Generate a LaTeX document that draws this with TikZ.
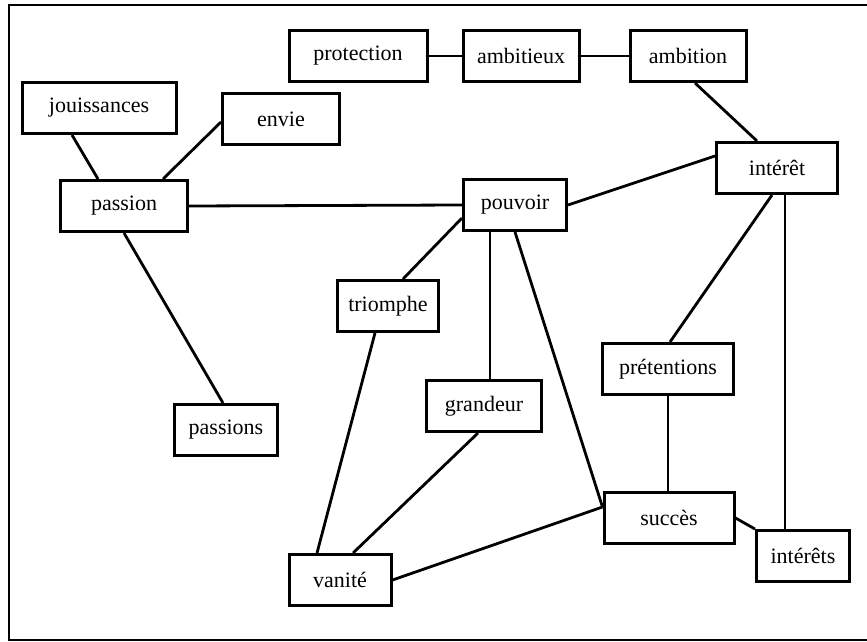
\documentclass[tikz,border=0pt]{standalone}
\usepackage{fontspec}
\setmainfont{Liberation Serif}
\usetikzlibrary{positioning}

\begin{document}
\begin{tikzpicture}[
    x=0.5pt, y=-0.5pt,
    every node/.style={draw, rectangle, line width=1.5pt, inner sep=0pt, minimum height=25.5pt, font=\fontsize{11}{13}\selectfont},
    link/.style={line width=1.4pt}
]
\useasboundingbox (0,0) rectangle (867,642);

% Frame
\draw[line width=1.2pt] (890,5) -- (9,5) -- (9,640) -- (890,640);

% Nodes (top row)
\node[minimum width=69pt] (protection) at (358,56) {protection};
\node[minimum width=58pt] (ambitieux) at (521,56) {ambitieux};
\node[minimum width=58pt] (ambition) at (688,56) {ambition};

% Nodes (left)
\node[minimum width=77pt] (jouissances) at (99,108) {jouissances};
\node[minimum width=58.5pt] (envie) at (281,119) {envie};
\node[minimum width=63.5pt] (passion) at (124,206) {passion};
\node[minimum width=51.5pt] (passions) at (226,430) {passions};

% Nodes (middle)
\node[minimum width=51.5pt] (pouvoir) at (515,205) {pouvoir};
\node[minimum width=50.5pt] (triomphe) at (388,306) {triomphe};
\node[minimum width=57.5pt] (grandeur) at (484,406) {grandeur};
\node[minimum width=51pt] (vanite) at (340,580) {vanité};

% Nodes (right)
\node[minimum width=60.5pt] (interet) at (777,168) {intérêt};
\node[minimum width=65.5pt] (pretentions) at (668,369) {prétentions};
\node[minimum width=65pt] (succes) at (669,518) {succès};
\node[minimum width=46.5pt] (interets) at (803,556) {intérêts};

% Helper points for the vertical links
\coordinate (gtop) at ([xshift=-12.5pt]pouvoir.south);
\coordinate (itop) at ([xshift=4pt]interet.south);

% Links (top row)
\draw[link] (protection.east) -- (ambitieux.west);
\draw[link] (ambitieux.east) -- (ambition.west);
\draw[link] ([xshift=3.5pt]ambition.south) -- ([xshift=-10pt]interet.north);

% Links around passion
\draw[link] ([xshift=-13.5pt]jouissances.south) -- ([xshift=-13pt]passion.north);
\draw[link] ([yshift=-1.5pt]envie.west) -- ([xshift=19.5pt]passion.north);
\draw[link] (passion.south) -- ([xshift=-1.5pt]passions.north);
\draw[link] (passion.east) -- (pouvoir.west);

% Links around pouvoir
\draw[link] (pouvoir.east) -- ([yshift=6pt]interet.west);
\draw[link] ([yshift=-6.5pt]pouvoir.west) -- ([xshift=7.5pt]triomphe.north);
\draw[link] (gtop) -- (gtop |- grandeur.north);
\draw[link] (pouvoir.south) -- ([yshift=5.5pt]succes.west);

% Links to vanite
\draw[link] ([xshift=-6.5pt]triomphe.south) -- ([xshift=-11.5pt]vanite.north);
\draw[link] ([xshift=-3pt]grandeur.south) -- ([xshift=6.5pt]vanite.north);
\draw[link] (vanite.east) -- ([yshift=5.5pt]succes.west);

% Links around interet
\draw[link] ([xshift=-2.5pt]interet.south) -- ([xshift=1pt]pretentions.north);
\draw[link] (itop) -- (itop |- interets.north);
\draw[link] (pretentions.south) -- (pretentions.south |- succes.north);
\draw[link] (succes.east) -- (interets.north west);

\end{tikzpicture}
\end{document}
